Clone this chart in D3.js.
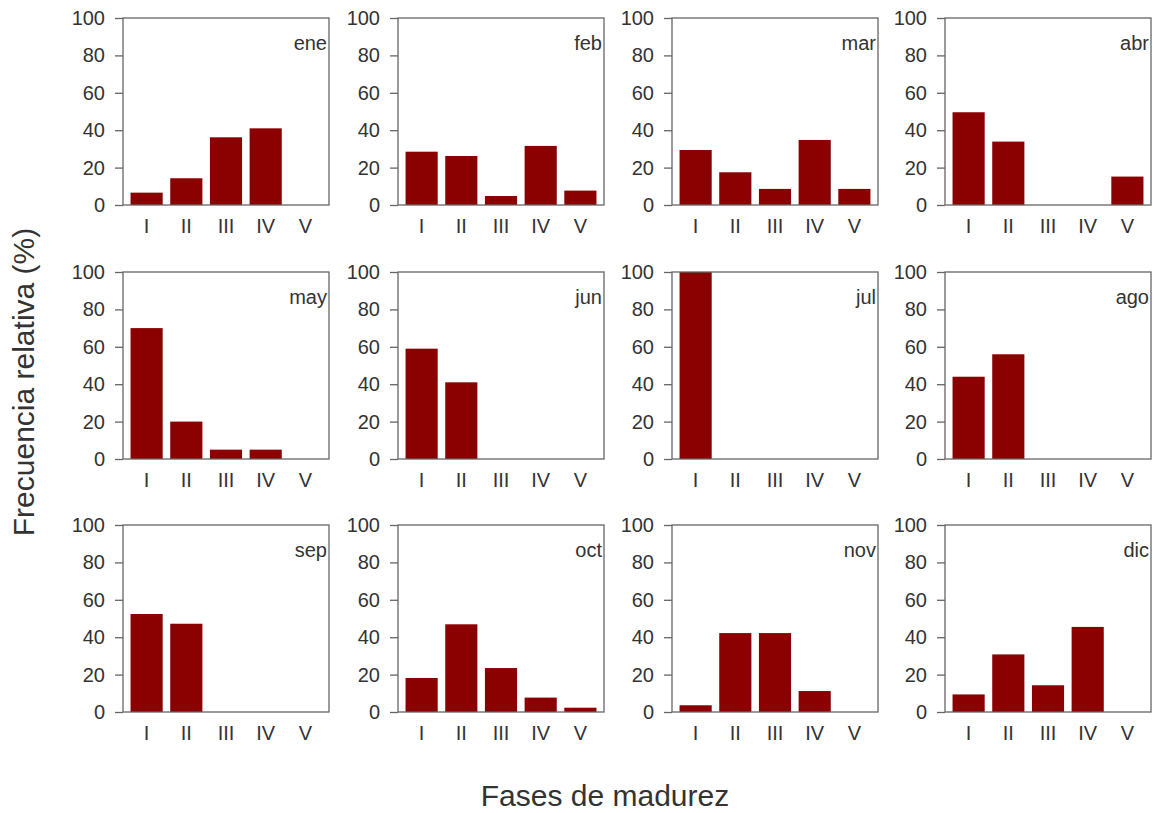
<!DOCTYPE html>
<html>
<head>
<meta charset="utf-8">
<script src="https://cdn.jsdelivr.net/npm/d3@7"></script>
<style>
  body { margin: 0; background: #fff; }
  text { font-family: "Liberation Sans", Arial, sans-serif; fill: #333; }
</style>
</head>
<body>
<div id="chart"></div>
<script>
var meses = ['ene', 'feb', 'mar', 'abr', 'may', 'jun', 'jul', 'ago', 'sep', 'oct', 'nov', 'dic'],
  fases = ['I', 'II', 'III', 'IV', 'V'],
  yTicks = [0, 20, 40, 60, 80, 100];

// frecuencia relativa (%) por fase, un arreglo por mes
var ene = [6.6, 14.3, 36.2, 41, 0],
  feb = [28.5, 26.2, 4.8, 31.6, 7.7],
  mar = [29.4, 17.5, 8.6, 34.8, 8.6],
  abr = [49.6, 33.9, 0, 0, 15.2],
  may = [70, 20, 5, 5, 0],
  jun = [59, 41, 0, 0, 0],
  jul = [100, 0, 0, 0, 0],
  ago = [44, 56, 0, 0, 0],
  sep = [52.4, 47.2, 0, 0, 0],
  oct = [18.2, 46.9, 23.5, 7.7, 2.3],
  nov = [3.6, 42.2, 42.2, 11.2, 0],
  dic = [9.4, 30.8, 14.3, 45.5, 0];

var valores = [ene, feb, mar, abr, may, jun, jul, ago, sep, oct, nov, dic];

var width = 1154,
  height = 813,
  colLeft = [123, 398, 672, 945],
  rowTop = [18, 272, 525],
  pw = 206,
  ph = 187;

var svg = d3.select('#chart').append('svg')
  .attr('width', width)
  .attr('height', height);

var x = d3.scaleBand()
  .domain(fases)
  .range([0, pw])
  .paddingInner(0.19)
  .paddingOuter(0.19);

var y = d3.scaleLinear()
  .domain([0, 100])
  .range([ph, 0]);

meses.forEach(function (mes, i) {
  var g = svg.append('g')
    .attr('transform', 'translate(' + colLeft[i % 4] + ',' + rowTop[Math.floor(i / 4)] + ')');

  var data = fases.map(function (f, j) { return {fase: f, v: valores[i][j]}; });

  g.selectAll('rect.bar')
    .data(data)
    .enter()
    .append('rect')
    .attr('class', 'bar')
    .attr('x', function (d) { return x(d.fase); })
    .attr('width', x.bandwidth())
    .attr('y', function (d) { return y(d.v); })
    .attr('height', function (d) { return ph - y(d.v); })
    .style('fill', '#8b0000');

  g.append('rect')
    .attr('width', pw)
    .attr('height', ph)
    .style('fill', 'none')
    .style('stroke', '#666')
    .style('stroke-width', 1.3);

  var ya = g.append('g')
    .call(d3.axisLeft(y).tickValues(yTicks).tickSize(8).tickPadding(10));
  ya.select('.domain').remove();
  ya.selectAll('line').style('stroke', '#666').style('stroke-width', 1.3);
  ya.selectAll('text')
    .style('font-size', '20px')
    .style('fill', '#333')
    .style('font-family', '"Liberation Sans", Arial, sans-serif');

  var xa = g.append('g')
    .attr('transform', 'translate(0,' + ph + ')')
    .call(d3.axisBottom(x).tickSize(0).tickPadding(14));
  xa.select('.domain').remove();
  xa.selectAll('text')
    .style('font-size', '20px')
    .style('fill', '#333')
    .style('font-family', '"Liberation Sans", Arial, sans-serif');

  g.append('text')
    .attr('x', pw - 2)
    .attr('y', 32)
    .attr('text-anchor', 'end')
    .style('font-size', '20px')
    .text(mes);
});

svg.append('text')
  .attr('x', 605)
  .attr('y', 806)
  .attr('text-anchor', 'middle')
  .style('font-size', '30px')
  .text('Fases de madurez');

svg.append('text')
  .attr('transform', 'translate(34,382) rotate(-90)')
  .attr('text-anchor', 'middle')
  .style('font-size', '30px')
  .text('Frecuencia relativa (%)');
</script>
</body>
</html>
